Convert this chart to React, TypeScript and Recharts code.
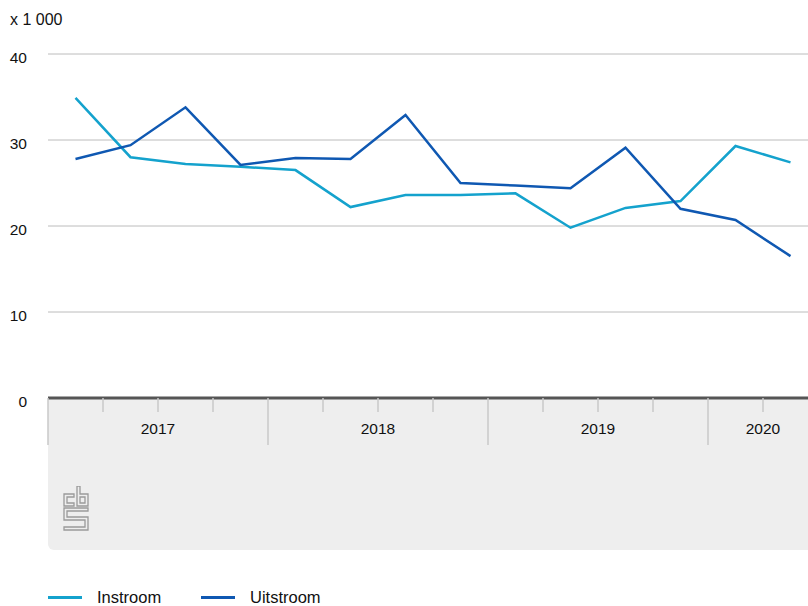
import React from "react";
import { LineChart, Line, XAxis, YAxis, CartesianGrid } from "recharts";

const quarters = [
  "2017 K1", "2017 K2", "2017 K3", "2017 K4",
  "2018 K1", "2018 K2", "2018 K3", "2018 K4",
  "2019 K1", "2019 K2", "2019 K3", "2019 K4",
  "2020 K1", "2020 K2",
];
const instroom = [34.9, 28.0, 27.2, 26.9, 26.5, 22.2, 23.6, 23.6, 23.8, 19.8, 22.1, 22.9, 29.3, 27.4];
const uitstroom = [27.8, 29.4, 33.8, 27.1, 27.9, 27.8, 32.9, 25.0, 24.7, 24.4, 29.1, 22.0, 20.7, 16.5];
const years = ["2017", "2018", "2019", "2020"];
const yearLabelAt = [2, 6, 10, 13];
const xTicks = [0, 1, 2, 3, 4, 5, 6, 7, 8, 9, 10, 11, 12, 13, 14];
const yTicks = [0, 10, 20, 30, 40];
const seriesNames = ["Instroom", "Uitstroom"];
const seriesColors = ["#14a2cd", "#0f58b2"];
const unitLabel = "x 1 000";

const data = quarters.map((q, i) => ({
  q,
  x: i + 0.5,
  instroom: instroom[i],
  uitstroom: uitstroom[i],
}));

const FONT = "'Liberation Sans', Arial, Helvetica, sans-serif";

const XTick = (props: any) => {
  const { x, y, payload } = props;
  const v = payload.value as number;
  const isYear = v % 4 === 0;
  const idx = yearLabelAt.indexOf(v);
  return (
    <g>
      <line x1={x} x2={x} y1={y} y2={y + (isYear ? 47 : 14)} stroke="#c8c8c8" strokeWidth={1.5} />
      {idx >= 0 && (
        <text x={x} y={y + 36} textAnchor="middle" fontSize={15.5} fill="#111" fontFamily={FONT}>
          {years[idx]}
        </text>
      )}
    </g>
  );
};

const YTick = (props: any) => {
  const { y, payload } = props;
  return (
    <text x={27} y={y + 9} textAnchor="end" fontSize={15.5} fill="#111" fontFamily={FONT}>
      {payload.value}
    </text>
  );
};

const Logo = () => (
  <svg width={28} height={46} viewBox="0 0 28 46" style={{ position: "absolute", left: 63, top: 486 }}>
    <g fill="none" stroke="#9a9a9a" strokeWidth={1.3}>
      <path d="M11 8 H1 V20 H11 V17 H4 V11 H11 Z" />
      <path d="M14 0 H17 V8 H25 V20 H14 Z" />
      <path d="M17 11 H22 V17 H17 Z" />
      <path d="M1 22 H25 V25 H4 V31 H25 V44 H1 V41 H22 V34 H1 Z" />
    </g>
  </svg>
);

export default function App() {
  return (
    <div
      style={{
        position: "fixed",
        left: 0,
        top: 0,
        width: 808,
        height: 606,
        overflow: "hidden",
        background: "#fff",
        fontFamily: FONT,
      }}
    >
      <div
        style={{
          position: "absolute",
          left: 48,
          top: 398,
          width: 780,
          height: 152,
          background: "#eeeeee",
          borderBottomLeftRadius: 6,
        }}
      />
      <Logo />
      <div style={{ position: "absolute", left: 10, top: 10, fontSize: 16, lineHeight: "20px", color: "#111" }}>
        {unitLabel}
      </div>
      <div style={{ position: "absolute", left: 0, top: 0 }}>
        <LineChart width={830} height={606} data={data} margin={{ top: 54, right: 12, left: 0, bottom: 148 }}>
          <CartesianGrid horizontal vertical={false} stroke="#bcbcbc" strokeWidth={1} />
          <XAxis
            dataKey="x"
            type="number"
            domain={[0, 14]}
            ticks={xTicks}
            interval={0}
            height={60}
            tickSize={0}
            tickMargin={0}
            tickLine={false}
            tick={<XTick />}
            axisLine={{ stroke: "#555555", strokeWidth: 3 }}
          />
          <YAxis
            type="number"
            domain={[0, 40]}
            ticks={yTicks}
            width={48}
            axisLine={false}
            tickLine={false}
            tick={<YTick />}
          />
          <Line
            dataKey="instroom"
            name={seriesNames[0]}
            stroke={seriesColors[0]}
            strokeWidth={2.5}
            dot={false}
            isAnimationActive={false}
          />
          <Line
            dataKey="uitstroom"
            name={seriesNames[1]}
            stroke={seriesColors[1]}
            strokeWidth={2.5}
            dot={false}
            isAnimationActive={false}
          />
        </LineChart>
      </div>
      <div
        style={{
          position: "absolute",
          left: 48,
          top: 587,
          height: 20,
          display: "flex",
          alignItems: "center",
          fontSize: 16.5,
          color: "#111",
        }}
      >
        {seriesNames.map((n, i) => (
          <div key={n} style={{ display: "flex", alignItems: "center", width: i === 0 ? 153 : undefined }}>
            <div style={{ width: 34, height: 3, background: seriesColors[i], marginRight: 15 }} />
            <span>{n}</span>
          </div>
        ))}
      </div>
    </div>
  );
}
